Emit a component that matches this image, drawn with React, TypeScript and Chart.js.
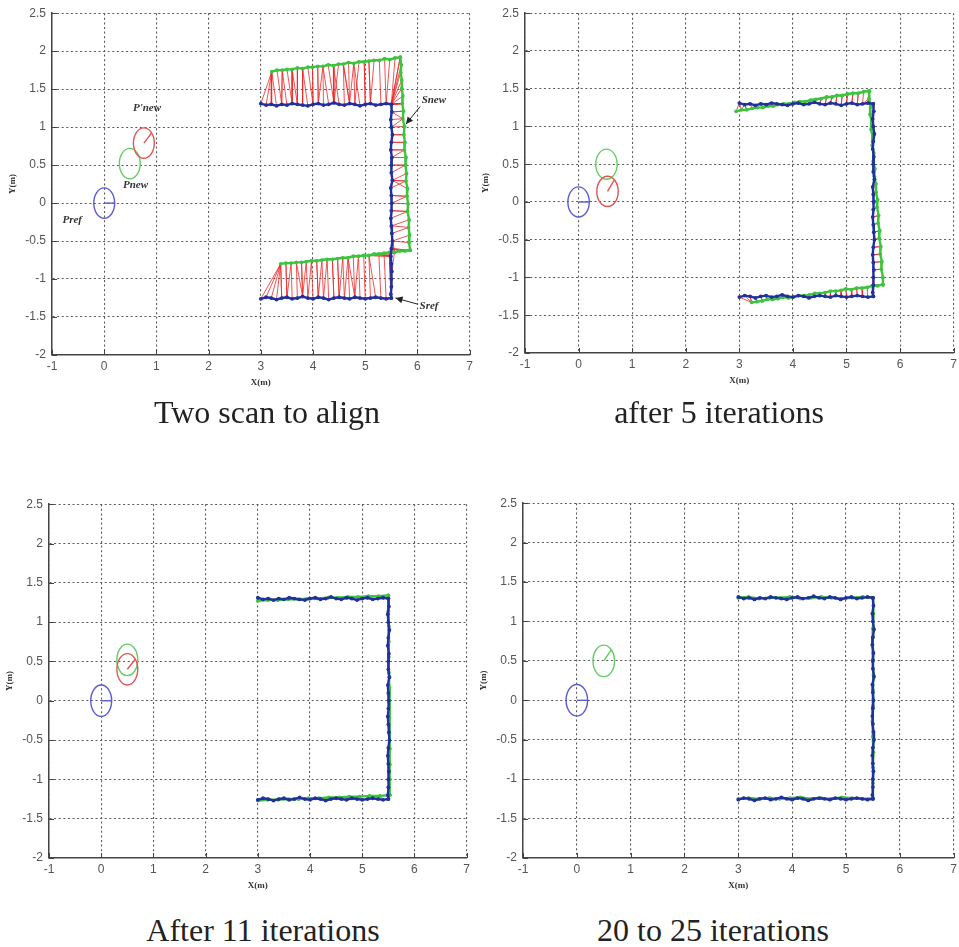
import React, { useEffect, useRef } from "react";
import { Chart, registerables } from "chart.js";
Chart.register(...registerables);

// ---------- axis ticks ----------
const X_MIN = -1, X_MAX = 7, X_STEP = 1;
const Y_MIN = -2, Y_MAX = 2.5, Y_STEP = 0.5;

// ---------- reference scan (blue, Sref) ----------
const WALL_X = [3.0,3.1,3.2,3.3,3.4,3.5,3.6,3.7,3.8,3.9,4.0,4.1,4.2,4.3,4.4,4.5,4.6,4.7,4.8,4.9,5.0,5.1,5.2,5.3,5.4,5.5];
const WALL_Y = [1.3,1.2,1.1,1.0,0.9,0.8,0.7,0.6,0.5,0.4,0.3,0.2,0.1,0.0,-0.1,-0.2,-0.3,-0.4,-0.5,-0.6,-0.7,-0.8,-0.9,-1.0,-1.1,-1.2,-1.25];
const REF_TOP_Y = [1.31,1.29,1.30,1.28,1.30,1.29,1.31,1.30,1.29,1.28,1.30,1.31,1.29,1.30,1.32,1.30,1.29,1.31,1.30,1.28,1.30,1.31,1.29,1.30,1.31,1.30];
const REF_RIGHT_X = [5.50,5.51,5.49,5.50,5.52,5.50,5.49,5.51,5.50,5.50,5.52,5.49,5.50,5.51,5.50,5.49,5.50,5.51,5.52,5.50,5.49,5.50,5.51,5.50,5.50,5.49,5.50];
const REF_BOT_Y = [-1.26,-1.24,-1.25,-1.27,-1.25,-1.24,-1.26,-1.25,-1.23,-1.25,-1.26,-1.24,-1.25,-1.27,-1.25,-1.24,-1.25,-1.26,-1.24,-1.25,-1.26,-1.25,-1.24,-1.25,-1.26,-1.25];

// ---------- new scan (green, Snew), panel 1: initial ----------
const NEW1_TOP_X = [3.21,3.31,3.41,3.50,3.60,3.70,3.80,3.90,3.99,4.09,4.19,4.29,4.39,4.49,4.58,4.68,4.78,4.88,4.98,5.07,5.17,5.27,5.37,5.47,5.57,5.67];
const NEW1_TOP_Y = [1.73,1.75,1.75,1.76,1.76,1.78,1.77,1.79,1.79,1.80,1.80,1.82,1.81,1.83,1.83,1.85,1.84,1.86,1.86,1.87,1.88,1.88,1.90,1.89,1.91,1.92];
const NEW1_RIGHT_X = [5.67,5.69,5.68,5.70,5.70,5.72,5.71,5.73,5.72,5.75,5.74,5.76,5.75,5.78,5.77,5.79,5.78,5.81,5.80,5.82,5.81,5.84,5.83,5.85,5.84,5.86];
const NEW1_RIGHT_Y = [1.92,1.82,1.72,1.62,1.51,1.41,1.31,1.21,1.11,1.01,0.90,0.80,0.70,0.60,0.50,0.39,0.29,0.19,0.09,-0.01,-0.11,-0.22,-0.32,-0.42,-0.52,-0.62];
const NEW1_BOT_X = [5.86,5.76,5.66,5.56,5.46,5.36,5.26,5.17,5.07,4.97,4.87,4.77,4.67,4.57,4.47,4.37,4.27,4.17,4.07,3.97,3.87,3.78,3.68,3.58,3.48,3.38];
const NEW1_BOT_Y = [-0.62,-0.63,-0.63,-0.65,-0.65,-0.66,-0.67,-0.67,-0.69,-0.69,-0.70,-0.70,-0.72,-0.72,-0.73,-0.74,-0.74,-0.75,-0.76,-0.76,-0.77,-0.78,-0.78,-0.79,-0.79,-0.80];

// ---------- panel 2: after 5 iterations ----------
const NEW2_TOP_X = [2.94,3.04,3.14,3.24,3.34,3.44,3.54,3.63,3.73,3.83,3.93,4.03,4.13,4.23,4.33,4.43,4.53,4.63,4.73,4.82,4.92,5.02,5.12,5.22,5.32,5.42];
const NEW2_TOP_Y = [1.20,1.22,1.22,1.24,1.25,1.25,1.27,1.27,1.29,1.30,1.30,1.32,1.33,1.33,1.35,1.36,1.37,1.39,1.39,1.41,1.41,1.43,1.44,1.44,1.46,1.47];
const NEW2_RIGHT_X = [5.43,5.42,5.45,5.44,5.47,5.46,5.49,5.48,5.51,5.50,5.53,5.52,5.55,5.55,5.58,5.57,5.60,5.59,5.62,5.61,5.64,5.63,5.66,5.65,5.68,5.68];
const NEW2_RIGHT_Y = [1.47,1.37,1.26,1.16,1.06,0.96,0.85,0.75,0.65,0.54,0.44,0.34,0.24,0.13,0.03,-0.07,-0.18,-0.28,-0.38,-0.48,-0.59,-0.69,-0.79,-0.89,-1.00,-1.10];
const NEW2_BOT_X = [5.68,5.58,5.48,5.39,5.29,5.19,5.09,4.99,4.90,4.80,4.70,4.60,4.50,4.41,4.31,4.21,4.11,4.01,3.92,3.82,3.72,3.62,3.52,3.43,3.33,3.23];
const NEW2_BOT_Y = [-1.09,-1.11,-1.11,-1.13,-1.14,-1.14,-1.16,-1.15,-1.17,-1.18,-1.18,-1.20,-1.21,-1.21,-1.23,-1.24,-1.24,-1.26,-1.27,-1.26,-1.28,-1.29,-1.29,-1.31,-1.32,-1.33];

// ---------- panel 3: after 11 iterations ----------
const NEW3_TOP_X = [3.00,3.19,3.38,3.58,3.77,3.96,4.15,4.35,4.54,4.73,4.92,5.12,5.31,5.50];
const NEW3_TOP_Y = [1.27,1.28,1.28,1.29,1.29,1.30,1.30,1.31,1.31,1.32,1.32,1.33,1.33,1.34];
const NEW3_RIGHT_X = [5.50,5.50,5.51,5.51,5.51,5.51,5.52,5.52,5.52,5.52,5.53,5.53,5.53,5.53];
const NEW3_RIGHT_Y = [1.34,1.14,0.95,0.75,0.56,0.36,0.17,-0.03,-0.22,-0.42,-0.61,-0.81,-1.00,-1.20];
const NEW3_BOT_X = [5.53,5.34,5.14,4.95,4.75,4.56,4.36,4.17,3.97,3.78,3.58,3.39,3.19,3.00];
const NEW3_BOT_Y = [-1.20,-1.21,-1.21,-1.22,-1.22,-1.23,-1.23,-1.24,-1.24,-1.25,-1.25,-1.26,-1.26,-1.27];

// ---------- panel 4: 20 to 25 iterations ----------
const NEW4_TOP_X = [3.00,3.19,3.38,3.58,3.77,3.96,4.15,4.35,4.54,4.73,4.92,5.12,5.31,5.50];
const NEW4_TOP_Y = [1.30,1.31,1.29,1.30,1.30,1.31,1.29,1.30,1.31,1.30,1.29,1.30,1.31,1.30];
const NEW4_RIGHT_X = [5.50,5.51,5.50,5.49,5.50,5.51,5.50,5.50,5.49,5.50,5.51,5.50,5.50,5.50];
const NEW4_RIGHT_Y = [1.30,1.10,0.91,0.71,0.52,0.32,0.13,-0.07,-0.27,-0.46,-0.66,-0.85,-1.05,-1.25];
const NEW4_BOT_X = [5.50,5.31,5.12,4.92,4.73,4.54,4.35,4.15,3.96,3.77,3.58,3.38,3.19,3.00];
const NEW4_BOT_Y = [-1.24,-1.25,-1.24,-1.23,-1.25,-1.24,-1.25,-1.23,-1.24,-1.25,-1.24,-1.25,-1.24,-1.25];

// ---------- robot poses: [x, y, heading(deg) or null] ----------
const POSE_R = 0.2;
const REF_POSE = [0, 0, 0];
const NEW_POSES = [[0.49, 0.52, null], [0.52, 0.50, null], [0.50, 0.52, null], [0.50, 0.50, 45]];
const EST_POSES = [[0.76, 0.79, 42], [0.54, 0.14, 50], [0.50, 0.40, 40], null];

// ---------- text ----------
const CAPTIONS = ["Two scan to align", "after 5 iterations", "After 11 iterations", "20 to 25 iterations"];
const X_TITLE = "X(m)";
const Y_TITLE = "Y(m)";
// labels in panel 1: [text, x, y]
const LABELS = [["P'new", 0.55, 1.25], ["Pnew", 0.36, 0.24], ["Pref", -0.8, -0.23], ["Snew", 6.08, 1.35], ["Sref", 6.04, -1.36]];
// arrows in panel 1: [x1, y1, x2, y2]
const ARROWS = [[6.05, 1.27, 5.78, 1.04], [6.0, -1.33, 5.58, -1.25]];

const BLUE = "#22309c";
const GREEN = "#3cc43c";
const RED = "rgba(238,40,40,0.8)";

// ---------- layout (plot area rectangles) ----------
const AREAS = [
  { L: 52, T: 13, R: 471, B: 355, cx: 267, cy: 412 },
  { L: 525, T: 13, R: 955, B: 353, cx: 719, cy: 412 },
  { L: 49, T: 504, R: 468, B: 858, cx: 263, cy: 930 },
  { L: 523, T: 503, R: 955, B: 858, cx: 713, cy: 930 },
];
const YW = 52, XH = 45, PADR = 6, PADT = 13;

type P = { x: number; y: number | null };
const pts = (xs: number[], ys: number[]): P[] => xs.map((x, i) => ({ x, y: ys[i] }));

const REF_SCAN: P[] = [
  ...pts(WALL_X, REF_TOP_Y),
  ...pts(REF_RIGHT_X, WALL_Y),
  ...pts(WALL_X, REF_BOT_Y).reverse(),
];

const NEW_SCANS: P[][] = [
  [...pts(NEW1_TOP_X, NEW1_TOP_Y), ...pts(NEW1_RIGHT_X, NEW1_RIGHT_Y), ...pts(NEW1_BOT_X, NEW1_BOT_Y)],
  [...pts(NEW2_TOP_X, NEW2_TOP_Y), ...pts(NEW2_RIGHT_X, NEW2_RIGHT_Y), ...pts(NEW2_BOT_X, NEW2_BOT_Y)],
  [...pts(NEW3_TOP_X, NEW3_TOP_Y), ...pts(NEW3_RIGHT_X, NEW3_RIGHT_Y), ...pts(NEW3_BOT_X, NEW3_BOT_Y)],
  [...pts(NEW4_TOP_X, NEW4_TOP_Y), ...pts(NEW4_RIGHT_X, NEW4_RIGHT_Y), ...pts(NEW4_BOT_X, NEW4_BOT_Y)],
];

// closest-point correspondences (both directions), as broken segments
function nearest(p: P, set: P[]): P {
  let best = set[0];
  let bd = Infinity;
  for (const q of set) {
    const d = (p.x - q.x) ** 2 + ((p.y as number) - (q.y as number)) ** 2;
    if (d < bd) { bd = d; best = q; }
  }
  return best;
}
function correspondences(news: P[], refs: P[]): P[] {
  const out: P[] = [];
  for (const p of news) {
    const q = nearest(p, refs);
    out.push({ x: p.x, y: p.y }, { x: q.x, y: q.y }, { x: p.x, y: null });
  }
  for (const q of refs) {
    const p = nearest(q, news);
    out.push({ x: q.x, y: q.y }, { x: p.x, y: p.y }, { x: q.x, y: null });
  }
  return out;
}

function makeConfig(idx: number): any {
  const newPose = NEW_POSES[idx];
  const estPose = EST_POSES[idx];
  const decor = {
    id: "decor" + idx,
    afterDatasetsDraw(chart: any) {
      const { ctx, chartArea: a, scales } = chart;
      const xs = scales.x, ys = scales.y;
      const X = (v: number) => xs.getPixelForValue(v);
      const Y = (v: number) => ys.getPixelForValue(v);
      ctx.save();
      // inward tick marks
      ctx.strokeStyle = "#444";
      ctx.lineWidth = 1;
      ctx.beginPath();
      for (const t of xs.ticks) {
        const px = Math.round(X(t.value)) + 0.5;
        ctx.moveTo(px, a.bottom);
        ctx.lineTo(px, a.bottom - 5);
      }
      for (const t of ys.ticks) {
        const py = Math.round(Y(t.value)) + 0.5;
        ctx.moveTo(a.left, py);
        ctx.lineTo(a.left + 5, py);
      }
      ctx.stroke();
      // poses
      const drawPose = (p: any, color: string) => {
        if (!p) return;
        const cx = X(p[0]), cy = Y(p[1]);
        const rx = X(p[0] + POSE_R) - cx;
        const ry = cy - Y(p[1] + POSE_R);
        ctx.strokeStyle = color;
        ctx.lineWidth = 1.4;
        ctx.beginPath();
        ctx.ellipse(cx, cy, rx, ry, 0, 0, Math.PI * 2);
        ctx.stroke();
        if (p[2] !== null && p[2] !== undefined) {
          const th = (p[2] * Math.PI) / 180;
          ctx.beginPath();
          ctx.moveTo(cx, cy);
          ctx.lineTo(X(p[0] + POSE_R * Math.cos(th)), Y(p[1] + POSE_R * Math.sin(th)));
          ctx.stroke();
        }
      };
      drawPose(REF_POSE, "#5a5ad2");
      drawPose(newPose, "#66cc66");
      drawPose(estPose, "#e05555");
      // labels & arrows (panel 1)
      if (idx === 0) {
        ctx.fillStyle = "#333";
        ctx.font = 'italic bold 11px "Liberation Serif", "Times New Roman", serif';
        ctx.textAlign = "left";
        ctx.textBaseline = "middle";
        for (const [t, lx, ly] of LABELS as any) ctx.fillText(t, X(lx), Y(ly));
        ctx.strokeStyle = "#222";
        ctx.fillStyle = "#222";
        ctx.lineWidth = 1;
        for (const [x1, y1, x2, y2] of ARROWS) {
          const p1x = X(x1), p1y = Y(y1), p2x = X(x2), p2y = Y(y2);
          ctx.beginPath();
          ctx.moveTo(p1x, p1y);
          ctx.lineTo(p2x, p2y);
          ctx.stroke();
          const ang = Math.atan2(p2y - p1y, p2x - p1x);
          const hl = 7, hw = 3.5;
          ctx.beginPath();
          ctx.moveTo(p2x, p2y);
          ctx.lineTo(p2x - hl * Math.cos(ang) + hw * Math.sin(ang), p2y - hl * Math.sin(ang) - hw * Math.cos(ang));
          ctx.lineTo(p2x - hl * Math.cos(ang) - hw * Math.sin(ang), p2y - hl * Math.sin(ang) + hw * Math.cos(ang));
          ctx.closePath();
          ctx.fill();
        }
      }
      // axis titles
      ctx.fillStyle = "#333";
      ctx.font = 'bold 9px "Liberation Serif", "Times New Roman", serif';
      ctx.textAlign = "center";
      ctx.textBaseline = "middle";
      ctx.fillText(X_TITLE, (a.left + a.right) / 2, a.bottom + 28);
      ctx.translate(a.left - 39, (a.top + a.bottom) / 2);
      ctx.rotate(-Math.PI / 2);
      ctx.fillText(Y_TITLE, 0, 0);
      ctx.restore();
    },
  };

  const tickFont = { family: '"Liberation Sans", Arial, sans-serif', size: 12 };
  const gridOpts = { color: "#5a5a5a", lineWidth: 1.1, drawTicks: false };
  const borderOpts = { display: true, color: "#444", width: 1.5, dash: [2, 2.6] };
  return {
    type: "scatter",
    data: {
      datasets: [
        { label: "Sref", data: REF_SCAN, showLine: true, borderColor: BLUE, backgroundColor: BLUE, borderWidth: 2.4, pointRadius: 1.9, pointBorderWidth: 0 },
        { label: "Snew", data: NEW_SCANS[idx], showLine: true, borderColor: GREEN, backgroundColor: GREEN, borderWidth: 2.4, pointRadius: 1.9, pointBorderWidth: 0 },
        { label: "match", data: correspondences(NEW_SCANS[idx], REF_SCAN), showLine: true, spanGaps: false, borderColor: RED, backgroundColor: RED, borderWidth: 1, pointRadius: 0 },
      ],
    },
    options: {
      responsive: false,
      animation: false,
      events: [],
      layout: { padding: { left: 0, top: PADT, right: PADR, bottom: 0 } },
      plugins: { legend: { display: false }, tooltip: { enabled: false } },
      scales: {
        x: {
          type: "linear", min: X_MIN, max: X_MAX,
          ticks: { stepSize: X_STEP, autoSkip: false, maxRotation: 0, padding: 4, color: "#555", font: tickFont, callback: (v: any) => String(v) },
          grid: gridOpts,
          border: borderOpts,
          afterFit: (s: any) => { s.height = XH; },
        },
        y: {
          type: "linear", min: Y_MIN, max: Y_MAX,
          ticks: { stepSize: Y_STEP, autoSkip: false, padding: 6, color: "#555", font: tickFont, callback: (v: any) => String(v) },
          grid: gridOpts,
          border: borderOpts,
          afterFit: (s: any) => { s.width = YW; },
        },
      },
    },
    plugins: [decor],
  };
}

function Panel({ idx }: { idx: number }) {
  const ref = useRef<HTMLCanvasElement>(null);
  const a = AREAS[idx];
  const w = a.R - a.L + YW + PADR;
  const h = a.B - a.T + PADT + XH;
  useEffect(() => {
    const chart = new Chart(ref.current as HTMLCanvasElement, makeConfig(idx));
    return () => chart.destroy();
  }, [idx]);
  return (
    <canvas
      ref={ref}
      width={w}
      height={h}
      style={{ position: "absolute", left: a.L - YW, top: a.T - PADT, width: w, height: h }}
    />
  );
}

export default function App() {
  return (
    <div style={{ position: "fixed", left: 0, top: 0, width: 959, height: 947, background: "#fff", overflow: "hidden" }}>
      {AREAS.map((_, i) => (
        <Panel key={i} idx={i} />
      ))}
      {AREAS.map((a, i) => (
        <div
          key={"c" + i}
          style={{
            position: "absolute",
            left: a.cx,
            top: a.cy,
            transform: "translate(-50%, -50%)",
            whiteSpace: "nowrap",
            fontFamily: '"Liberation Serif", "Times New Roman", serif',
            fontSize: 32,
            lineHeight: 1,
            color: "#222",
          }}
        >
          {CAPTIONS[i]}
        </div>
      ))}
    </div>
  );
}
